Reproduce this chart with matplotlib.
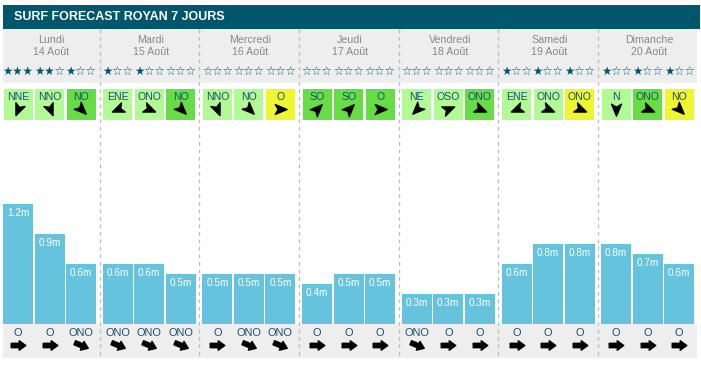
import matplotlib
matplotlib.use('Agg')
import matplotlib.pyplot as plt
from matplotlib.path import Path
from matplotlib.markers import MarkerStyle
from matplotlib.transforms import Affine2D
import matplotlib.patches as mpatches

title = 'SURF FORECAST ROYAN 7 JOURS'
days = ['Lundi', 'Mardi', 'Mercredi', 'Jeudi', 'Vendredi', 'Samedi', 'Dimanche']
dates = ['14 Août', '15 Août', '16 Août', '17 Août', '18 Août', '19 Août', '20 Août']
stars = [[3, 2, 1], [1, 1, 0], [0, 0, 0], [0, 0, 0], [0, 0, 0], [1, 1, 1], [1, 1, 1]]
wind_dirs = [['NNE', 'NNO', 'NO'], ['ENE', 'ONO', 'NO'], ['NNO', 'NO', 'O'],
             ['SO', 'SO', 'O'], ['NE', 'OSO', 'ONO'], ['ENE', 'ONO', 'ONO'],
             ['N', 'ONO', 'NO']]
wind_levels = [[0, 0, 1], [0, 0, 1], [0, 0, 2], [1, 1, 1], [0, 0, 1], [0, 0, 2], [0, 1, 2]]
heights = [[1.2, 0.9, 0.6], [0.6, 0.6, 0.5], [0.5, 0.5, 0.5], [0.4, 0.5, 0.5],
           [0.3, 0.3, 0.3], [0.6, 0.8, 0.8], [0.8, 0.7, 0.6]]
swell_dirs = [['O', 'O', 'ONO'], ['ONO', 'ONO', 'ONO'], ['O', 'ONO', 'ONO'],
              ['O', 'O', 'O'], ['ONO', 'O', 'O'], ['O', 'O', 'O'], ['O', 'O', 'O']]

COMPASS = {'N': 0, 'NNE': 22.5, 'NE': 45, 'ENE': 67.5, 'E': 90, 'ESE': 112.5,
           'SE': 135, 'SSE': 157.5, 'S': 180, 'SSO': 202.5, 'SO': 225,
           'OSO': 247.5, 'O': 270, 'ONO': 292.5, 'NO': 315, 'NNO': 337.5}

TEAL = '#02566b'
BAR = '#66c3de'
GRAY_BG = '#eeeeee'
WIND_COLS = ['#b2fa96', '#66dd44', '#eef630']
TXT_DIR = '#1b4f72'

W, H = 701, 369
plt.rcParams['font.family'] = ['Liberation Sans', 'DejaVu Sans']
fig = plt.figure(figsize=(W / 100, H / 100), dpi=100)
ax = fig.add_axes([0, 0, 1, 1])
ax.set_xlim(0, W)
ax.set_ylim(H, 0)
ax.axis('off')

# title bar
ax.add_patch(mpatches.Rectangle((3, 5), 697, 24, color=TEAL, lw=0))
ax.text(14, 17, title, color='white', fontsize=9, fontweight='bold', va='center', ha='left')

# gray header and footer
ax.add_patch(mpatches.Rectangle((3, 29), 694, 54, color=GRAY_BG, lw=0))
ax.add_patch(mpatches.Rectangle((3, 324), 694, 34, color=GRAY_BG, lw=0))

COL_W = 99.7
def col_x0(i):
    return 3 + COL_W * i

def sub_c(i, j):
    return col_x0(i) + 15 + 31.5 * j

nav = Path([(1, 0), (-0.8, 0.75), (-0.35, 0), (-0.8, -0.75), (1, 0)],
           [Path.MOVETO, Path.LINETO, Path.LINETO, Path.LINETO, Path.CLOSEPOLY])
fat = Path([(-1, -0.3), (0.1, -0.3), (0.1, -0.65), (1, 0), (0.1, 0.65), (0.1, 0.3),
            (-1, 0.3), (-1, -0.3)],
           [Path.MOVETO] + [Path.LINETO] * 6 + [Path.CLOSEPOLY])

def arrow_marker(path, d):
    # arrow points where the wind/swell goes (from + 180), in screen space (y up)
    ang = 90 - (COMPASS[d] + 180)
    return MarkerStyle(path, transform=Affine2D().rotate_deg(ang))

for i in range(len(days)):
    cx = col_x0(i) + 48
    ax.text(cx, 40, days[i], color='#888888', fontsize=7.7, ha='center', va='center')
    ax.text(cx, 52, dates[i], color='#888888', fontsize=7.7, ha='center', va='center')
    if i < len(days) - 1:
        xs = col_x0(i) + 96.5
        ax.plot([xs, xs], [29, 358], color='#bbbbbb', lw=0.9, ls=(0, (3, 3)))
    for j in range(3):
        c = sub_c(i, j)
        s = stars[i][j]
        ax.text(c, 71.5, '★' * s + '☆' * (3 - s), color=TEAL, fontsize=8.3,
                ha='center', va='center', family='DejaVu Sans')
        ax.add_patch(mpatches.Rectangle((c - 14.5, 89), 29, 31,
                                        color=WIND_COLS[wind_levels[i][j]], lw=0))
        ax.text(c, 97.5, wind_dirs[i][j], color=TXT_DIR, fontsize=7.6, ha='center', va='center')
        ax.plot(c, 109, marker=arrow_marker(nav, wind_dirs[i][j]), ms=9.5,
                color='black', ls='none')
        ax.text(c, 332.5, swell_dirs[i][j], color=TXT_DIR, fontsize=7.9, ha='center', va='center')
        ax.plot(c, 345, marker=arrow_marker(fat, swell_dirs[i][j]), ms=10.5,
                color='black', ls='none')

# bars
axb = fig.add_axes([0, (H - 324) / H, 1, 120 / H])
axb.set_xlim(0, W)
axb.set_ylim(0, 1.2)
axb.axis('off')
for i in range(len(days)):
    xs = [sub_c(i, j) for j in range(3)]
    axb.bar(xs, heights[i], width=30, color=BAR, lw=0)
    for x, h in zip(xs, heights[i]):
        axb.annotate(f'{h}m', (x, h), xytext=(0, -6.5), textcoords='offset points',
                     color='white', fontsize=7.2, ha='center', va='center')

fig.savefig('out.png', dpi=100, facecolor='white')
